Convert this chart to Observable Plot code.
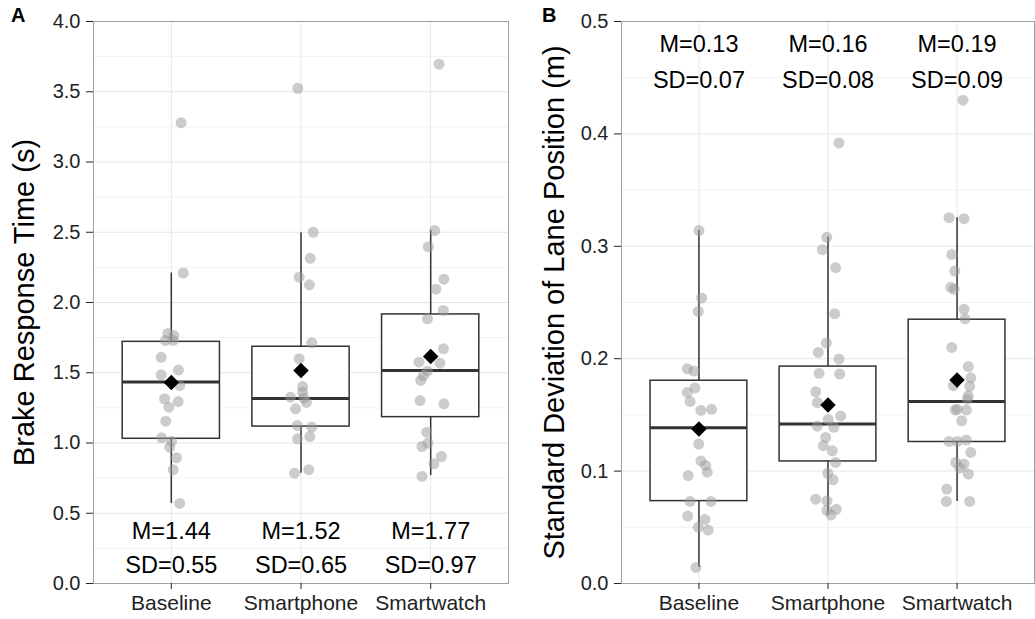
<!DOCTYPE html>
<html><head><meta charset="utf-8">
<script src="https://cdn.jsdelivr.net/npm/d3@7"></script>
<script src="https://cdn.jsdelivr.net/npm/@observablehq/plot@0.6"></script>
<style>
body{margin:0;background:#fff;font-family:"Liberation Sans",Arial,sans-serif}
#wrap{position:relative;width:1035px;height:619px;overflow:hidden;background:#fff}
.panel{position:absolute;top:0}
.tag{position:absolute;font-weight:bold;font-size:20px;color:#000;line-height:20px}
</style></head><body>
<div id="wrap">
<div id="pa" class="panel" style="left:0"></div>
<div id="pb" class="panel" style="left:527px"></div>
<div class="tag" style="left:11px;top:5px">A</div>
<div class="tag" style="left:542px;top:5px">B</div>
</div>
<script>
// ---------- data ----------
const categories = ["Baseline", "Smartphone", "Smartwatch"];

// Panel A: brake response time (s)
const brakeBaseline   = [3.28, 2.21, 1.78, 1.765, 1.73, 1.73, 1.61, 1.52, 1.485, 1.41, 1.315, 1.295, 1.255, 1.155, 1.037, 1.013, 0.97, 0.895, 0.81, 0.57];
const brakeSmartphone = [3.525, 2.50, 2.315, 2.18, 2.126, 1.713, 1.60, 1.402, 1.362, 1.326, 1.32, 1.29, 1.243, 1.125, 1.113, 1.046, 1.03, 0.785, 0.81];
const brakeSmartwatch = [3.696, 2.512, 2.396, 2.166, 2.095, 1.943, 1.884, 1.67, 1.575, 1.568, 1.511, 1.48, 1.445, 1.302, 1.279, 1.077, 0.999, 0.975, 0.904, 0.852, 0.762];
const brakeJitterBaseline   = [0.076, 0.092, -0.027, 0.019, -0.045, 0.015, -0.078, 0.055, -0.078, 0.065, -0.052, 0.053, -0.019, -0.042, -0.075, 0.002, -0.012, 0.04, 0.015, 0.065];
const brakeJitterSmartphone = [-0.025, 0.094, 0.071, -0.014, 0.065, 0.083, -0.014, 0.012, 0.012, -0.081, 0.022, 0.042, -0.042, -0.029, 0.083, 0.068, -0.027, -0.05, 0.06];
const brakeJitterSmartwatch = [0.064, 0.031, -0.018, 0.102, 0.041, 0.098, -0.025, 0.098, -0.09, 0.072, -0.025, -0.056, -0.077, -0.082, 0.102, -0.031, -0.021, -0.067, 0.082, 0.025, -0.067];
const brakeQ1     = [1.03, 1.117, 1.184];
const brakeMedian = [1.435, 1.317, 1.516];
const brakeQ3     = [1.72, 1.685, 1.915];
const brakeLow    = [0.57, 0.785, 0.769];
const brakeHigh   = [2.21, 2.496, 2.512];
const brakeMean   = [1.43, 1.516, 1.616];
const brakeMLabel  = ["1.44", "1.52", "1.77"];
const brakeSDLabel = ["0.55", "0.65", "0.97"];
const brakeTicks = [0, 0.5, 1, 1.5, 2, 2.5, 3, 3.5, 4];
const brakeMinor = [0.25, 0.75, 1.25, 1.75, 2.25, 2.75, 3.25, 3.75];

// Panel B: SD of lane position (m)
const laneBaseline   = [0.314, 0.254, 0.242, 0.191, 0.189, 0.174, 0.170, 0.162, 0.154, 0.155, 0.124, 0.109, 0.105, 0.099, 0.096, 0.073, 0.073, 0.060, 0.057, 0.050, 0.0475, 0.0143];
const laneSmartphone = [0.392, 0.308, 0.297, 0.281, 0.240, 0.214, 0.2056, 0.1997, 0.187, 0.1864, 0.1706, 0.161, 0.149, 0.146, 0.140, 0.139, 0.130, 0.1226, 0.118, 0.1077, 0.098, 0.0923, 0.075, 0.0736, 0.066, 0.065, 0.061];
const laneSmartwatch = [0.430, 0.3255, 0.3246, 0.2926, 0.278, 0.2635, 0.2617, 0.244, 0.2354, 0.210, 0.193, 0.183, 0.176, 0.1754, 0.167, 0.164, 0.155, 0.1543, 0.1543, 0.1448, 0.1264, 0.1264, 0.1276, 0.1166, 0.1077, 0.1063, 0.1027, 0.0974, 0.084, 0.073, 0.073];
const laneJitterBaseline   = [0, 0.021, -0.005, -0.09, -0.039, -0.031, -0.09, -0.069, 0.015, 0.098, -0.002, 0.015, 0.052, 0.064, -0.083, -0.069, 0.093, -0.087, 0.046, -0.005, 0.072, -0.023];
const laneJitterSmartphone = [0.085, -0.01, -0.044, 0.059, 0.052, -0.013, -0.075, 0.085, -0.069, 0.09, -0.095, -0.083, 0.098, 0.002, -0.083, 0.046, -0.018, -0.036, 0.033, 0.059, -0.002, 0.039, -0.095, -0.008, 0.064, -0.008, 0.023];
const laneJitterSmartwatch = [0.046, -0.062, 0.054, -0.041, -0.018, -0.049, -0.023, 0.054, 0.062, -0.041, 0.087, 0.106, -0.029, 0.098, 0.087, 0.08, 0.002, 0.072, -0.015, 0.036, -0.062, 0.002, 0.072, 0.106, -0.01, 0.054, 0.021, 0.087, -0.08, -0.083, 0.098];
const laneQ1     = [0.0733, 0.1086, 0.1259];
const laneMedian = [0.1386, 0.142, 0.162];
const laneQ3     = [0.1804, 0.193, 0.2347];
const laneLow    = [0.0143, 0.061, 0.073];
const laneHigh   = [0.314, 0.308, 0.3255];
const laneMean   = [0.1374, 0.1588, 0.181];
const laneMLabel  = ["0.13", "0.16", "0.19"];
const laneSDLabel = ["0.07", "0.08", "0.09"];
const laneTicks = [0, 0.1, 0.2, 0.3, 0.4, 0.5];
const laneMinor = [0.05, 0.15, 0.25, 0.35, 0.45];

// ---------- chart ----------
function panel(cfg) {
  const points = categories.flatMap((c, i) =>
    cfg.values[i].map((v, j) => ({x: i + 1 + cfg.jitter[i][j], y: v})));
  const boxes = categories.map((c, i) => ({
    x: i + 1, q1: cfg.q1[i], med: cfg.med[i], q3: cfg.q3[i],
    lo: cfg.lo[i], hi: cfg.hi[i], mean: cfg.mean[i],
    m: "M=" + cfg.mLabel[i], sd: "SD=" + cfg.sdLabel[i]
  }));
  const hw = 0.375;
  return Plot.plot({
    width: cfg.width, height: 619,
    marginLeft: cfg.marginLeft, marginRight: cfg.marginRight,
    marginTop: 21, marginBottom: 36,
    style: {fontFamily: '"Liberation Sans", Arial, sans-serif', color: "#222", background: "white"},
    x: {domain: [0.4, 3.6], label: null},
    y: {domain: cfg.domain, label: null},
    marks: [
      Plot.ruleY(cfg.minor, {stroke: "#f2f2f2", strokeWidth: 1}),
      Plot.ruleY(cfg.ticks, {stroke: "#e6e6e6", strokeWidth: 1}),
      Plot.ruleX([1, 2, 3], {stroke: "#e6e6e6", strokeWidth: 1}),
      Plot.ruleX(boxes, {x: "x", y1: "lo", y2: "hi", stroke: "#333", strokeWidth: 1.5}),
      Plot.rect(boxes, {x1: d => d.x - hw, x2: d => d.x + hw, y1: "q1", y2: "q3", fill: "white", stroke: "#333", strokeWidth: 1.5}),
      Plot.ruleY(boxes, {y: "med", x1: d => d.x - hw, x2: d => d.x + hw, stroke: "#333", strokeWidth: 3}),
      Plot.dot(points, {x: "x", y: "y", r: 5.5, fill: "#999", fillOpacity: 0.5, stroke: null}),
      Plot.dot(boxes, {x: "x", y: "mean", symbol: "diamond2", r: 7, fill: "black", stroke: null}),
      Plot.text(boxes, {x: "x", y: () => cfg.mY, text: "m", fontSize: 23.5, fill: "black", lineAnchor: "middle"}),
      Plot.text(boxes, {x: "x", y: () => cfg.sdY, text: "sd", fontSize: 23.5, fill: "black", lineAnchor: "middle"}),
      Plot.frame({stroke: "#a0a0a0", strokeWidth: 1}),
      Plot.axisY({ticks: cfg.ticks, tickFormat: d3.format(".1f"), tickSize: 7, tickPadding: 6, fontSize: 20, label: null}),
      Plot.axisX({ticks: [1, 2, 3], tickFormat: i => categories[i - 1], tickSize: 6, tickPadding: 6, fontSize: 21, label: null}),
      Plot.text([cfg.title], {frameAnchor: "left", text: d => d, rotate: -90, dx: cfg.titleDx, fontSize: 29, fill: "black", lineAnchor: "middle", textAnchor: "middle"})
    ]
  });
}

document.getElementById("pa").append(panel({
  width: 520, marginLeft: 93, marginRight: 12, domain: [0, 4],
  values: [brakeBaseline, brakeSmartphone, brakeSmartwatch],
  jitter: [brakeJitterBaseline, brakeJitterSmartphone, brakeJitterSmartwatch],
  q1: brakeQ1, med: brakeMedian, q3: brakeQ3, lo: brakeLow, hi: brakeHigh, mean: brakeMean,
  mLabel: brakeMLabel, sdLabel: brakeSDLabel, mY: 0.37, sdY: 0.128,
  ticks: brakeTicks, minor: brakeMinor,
  title: "Brake Response Time (s)", titleDx: -69
}));

document.getElementById("pb").append(panel({
  width: 508, marginLeft: 94, marginRight: 1, domain: [0, 0.5],
  values: [laneBaseline, laneSmartphone, laneSmartwatch],
  jitter: [laneJitterBaseline, laneJitterSmartphone, laneJitterSmartwatch],
  q1: laneQ1, med: laneMedian, q3: laneQ3, lo: laneLow, hi: laneHigh, mean: laneMean,
  mLabel: laneMLabel, sdLabel: laneSDLabel, mY: 0.4795, sdY: 0.4479,
  ticks: laneTicks, minor: laneMinor,
  title: "Standard Deviation of Lane Position (m)", titleDx: -67
}));
</script>
</body></html>
